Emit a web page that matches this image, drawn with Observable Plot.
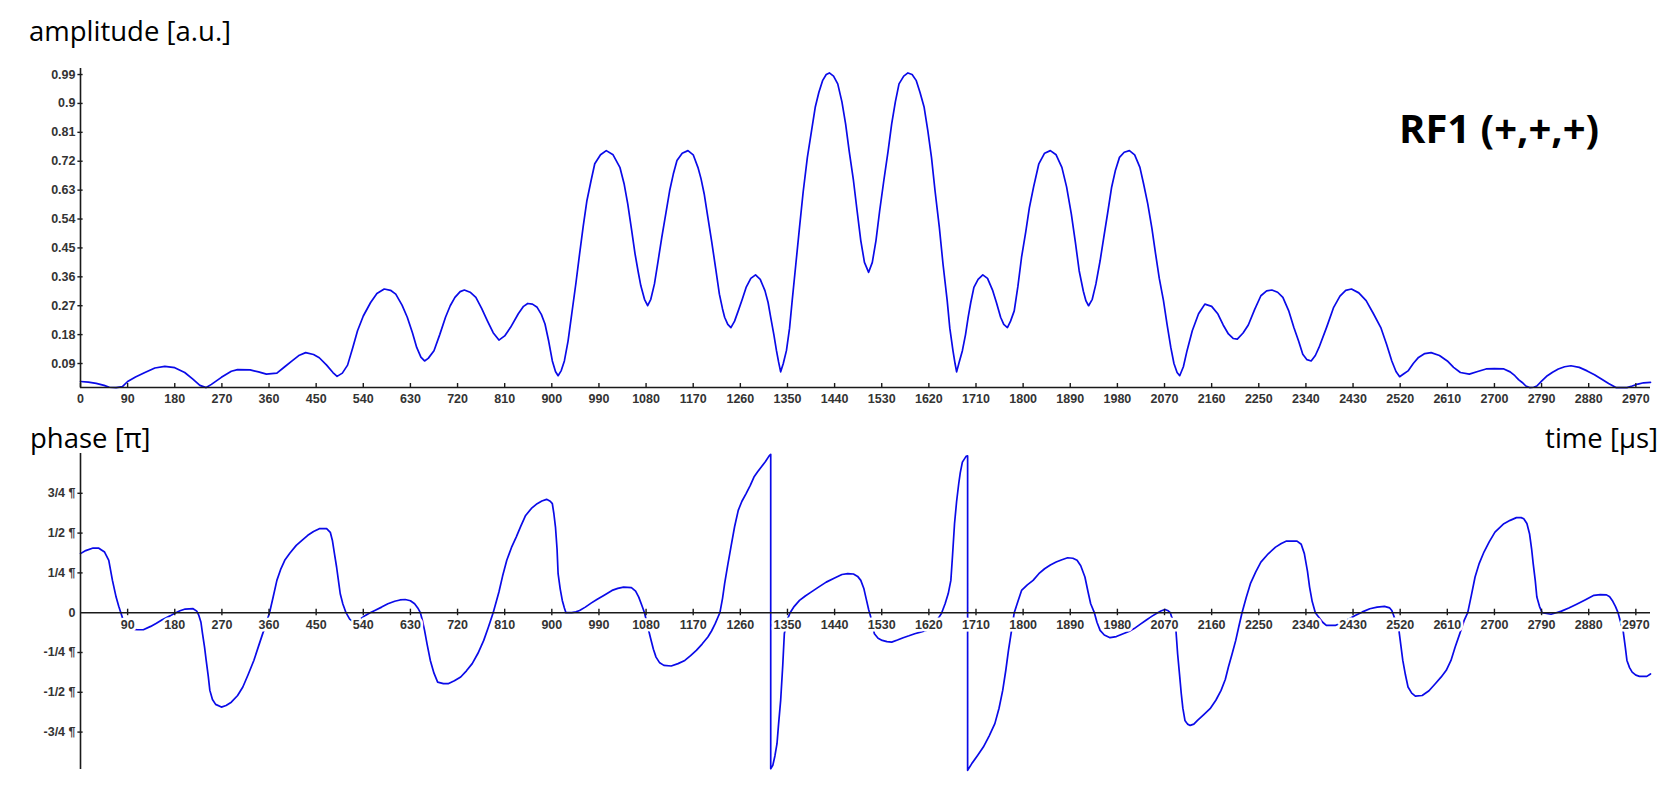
<!DOCTYPE html>
<html>
<head>
<meta charset="utf-8">
<script src="https://cdn.jsdelivr.net/npm/d3@7"></script>
<script src="https://cdn.jsdelivr.net/npm/@observablehq/plot@0.6"></script>
<style>
  html, body { margin: 0; padding: 0; background: #fff; }
  #wrap { position: relative; width: 1668px; height: 796px; overflow: hidden; background: #fff; }
  #wrap > .panel { position: absolute; left: 0; }
  #overlay { position: absolute; left: 0; top: 0; pointer-events: none; z-index: 5; }
</style>
</head>
<body>
<div id="wrap"></div>
<script>
// ---------- data ----------
const ampTime = [0,15,30,45,55,68,80,90,105,123,142,161,180,199,214,228,240,250,269,288,300,324,340,355,375,390,404,418,430,445,456,470,482,490,500,510,520,529,540,554,566,580,592,602,614,624,634,642,650,657,664,675,686,697,706,715,725,733,744,755,766,777,788,799,810,821,836,846,854,863,872,880,887,894,901,907,912,918,924,931,938,946,953,960,967,975,982,993,1004,1017,1030,1038,1045,1052,1059,1065,1070,1077,1083,1089,1096,1103,1110,1118,1125,1132,1139,1149,1160,1170,1179,1185,1191,1198,1205,1213,1220,1226,1230,1236,1242,1249,1256,1264,1271,1280,1289,1298,1307,1313,1318,1324,1329,1333,1337,1342,1348,1354,1359,1366,1373,1380,1388,1396,1403,1410,1417,1424,1430,1438,1446,1454,1461,1468,1476,1483,1490,1497,1505,1512,1519,1526,1534,1542,1549,1556,1563,1572,1580,1588,1596,1603,1611,1618,1625,1632,1640,1647,1655,1660,1666,1670,1673,1678,1684,1690,1695,1700,1706,1714,1723,1732,1742,1749,1757,1763,1770,1776,1783,1790,1797,1805,1812,1820,1830,1841,1852,1863,1874,1883,1892,1900,1907,1915,1920,1925,1932,1939,1947,1954,1962,1969,1976,1984,1993,2003,2013,2023,2030,2038,2046,2053,2060,2068,2075,2082,2088,2094,2099,2106,2113,2123,2135,2147,2160,2172,2182,2192,2201,2209,2220,2230,2242,2254,2265,2275,2286,2296,2307,2317,2326,2334,2342,2350,2358,2365,2380,2393,2405,2416,2427,2441,2455,2469,2483,2494,2504,2512,2519,2527,2535,2545,2555,2567,2579,2595,2610,2622,2635,2652,2668,2684,2700,2718,2730,2739,2746,2753,2760,2767,2775,2781,2790,2801,2811,2822,2834,2846,2862,2877,2891,2905,2918,2932,2943,2953,2963,2974,2985,2998];
const ampValue = [0.034,0.032,0.028,0.022,0.016,0.015,0.018,0.034,0.048,0.062,0.076,0.081,0.077,0.062,0.042,0.022,0.015,0.025,0.047,0.066,0.071,0.070,0.064,0.057,0.060,0.080,0.098,0.116,0.124,0.118,0.108,0.085,0.062,0.050,0.060,0.085,0.140,0.192,0.238,0.280,0.308,0.322,0.318,0.306,0.272,0.234,0.185,0.140,0.110,0.098,0.106,0.130,0.180,0.234,0.270,0.296,0.314,0.319,0.312,0.296,0.262,0.223,0.186,0.163,0.176,0.202,0.245,0.268,0.277,0.275,0.265,0.243,0.213,0.160,0.098,0.065,0.052,0.068,0.098,0.160,0.244,0.340,0.431,0.518,0.597,0.660,0.712,0.740,0.753,0.740,0.701,0.650,0.587,0.510,0.431,0.375,0.332,0.290,0.270,0.290,0.338,0.410,0.483,0.560,0.628,0.680,0.722,0.745,0.753,0.740,0.701,0.665,0.618,0.545,0.473,0.385,0.306,0.260,0.234,0.212,0.202,0.222,0.254,0.292,0.327,0.355,0.366,0.352,0.317,0.280,0.234,0.180,0.130,0.095,0.064,0.090,0.130,0.200,0.286,0.400,0.514,0.625,0.732,0.815,0.888,0.935,0.971,0.990,0.995,0.985,0.961,0.905,0.836,0.750,0.660,0.565,0.473,0.405,0.374,0.405,0.473,0.565,0.660,0.750,0.836,0.905,0.961,0.985,0.995,0.990,0.971,0.935,0.888,0.815,0.732,0.625,0.514,0.400,0.286,0.200,0.130,0.090,0.064,0.095,0.130,0.180,0.234,0.280,0.327,0.352,0.366,0.355,0.317,0.280,0.234,0.212,0.202,0.222,0.254,0.330,0.421,0.500,0.576,0.640,0.712,0.745,0.753,0.740,0.701,0.640,0.556,0.465,0.379,0.315,0.285,0.270,0.290,0.338,0.410,0.483,0.565,0.639,0.690,0.732,0.748,0.753,0.740,0.701,0.650,0.587,0.510,0.431,0.355,0.286,0.210,0.140,0.090,0.062,0.052,0.080,0.130,0.192,0.245,0.275,0.268,0.244,0.210,0.182,0.168,0.166,0.185,0.210,0.258,0.301,0.316,0.319,0.312,0.296,0.255,0.202,0.160,0.119,0.102,0.098,0.115,0.140,0.205,0.265,0.300,0.318,0.322,0.310,0.286,0.245,0.202,0.150,0.098,0.065,0.049,0.058,0.067,0.090,0.109,0.121,0.124,0.115,0.098,0.078,0.062,0.057,0.065,0.073,0.074,0.073,0.064,0.052,0.040,0.031,0.020,0.015,0.016,0.020,0.035,0.052,0.063,0.073,0.080,0.083,0.078,0.067,0.055,0.041,0.028,0.015,0.015,0.015,0.020,0.026,0.030,0.031];

const phaseTime = [0,10,24,35,46,54,61,68,73,77,82,90,100,109,120,134,145,156,171,182,190,200,215,222,226,230,233,237,240,244,247,252,258,269,278,288,300,310,320,331,340,350,361,368,375,382,390,400,412,424,434,445,456,470,477,481,485,489,493,496,501,507,514,520,530,544,553,562,575,587,600,610,620,630,638,644,649,653,657,662,668,675,682,693,702,714,726,737,748,759,770,779,788,794,799,806,814,823,832,841,850,861,872,881,890,897,901,904,907,910,912,916,920,924,927,938,946,953,964,975,986,1000,1015,1026,1037,1052,1060,1066,1072,1077,1082,1088,1094,1099,1106,1114,1128,1141,1154,1165,1176,1187,1198,1205,1212,1217,1221,1226,1230,1236,1242,1249,1256,1263,1271,1279,1286,1293,1300,1308,1315,1318,1318,1322,1326,1330,1333,1337,1341,1344,1349,1355,1363,1373,1384,1395,1410,1424,1440,1454,1465,1476,1484,1490,1496,1501,1505,1509,1513,1516,1523,1531,1540,1549,1560,1571,1582,1593,1604,1615,1625,1635,1644,1651,1657,1662,1665,1669,1673,1677,1680,1684,1691,1694,1694,1702,1713,1724,1735,1746,1754,1761,1767,1772,1778,1783,1790,1797,1808,1819,1830,1841,1852,1863,1874,1885,1895,1903,1910,1918,1924,1929,1936,1941,1947,1955,1966,1978,1991,2002,2012,2024,2036,2047,2057,2064,2071,2077,2081,2086,2092,2095,2099,2102,2105,2109,2114,2119,2126,2133,2145,2157,2168,2178,2186,2192,2199,2206,2212,2218,2226,2234,2244,2254,2268,2282,2293,2303,2323,2331,2337,2343,2347,2352,2358,2365,2372,2379,2396,2410,2422,2434,2448,2462,2476,2490,2500,2504,2510,2515,2518,2525,2530,2535,2542,2549,2562,2575,2587,2598,2608,2617,2625,2634,2642,2649,2656,2663,2671,2680,2690,2701,2710,2718,2730,2742,2751,2756,2762,2767,2771,2774,2778,2781,2786,2791,2808,2818,2828,2842,2856,2873,2890,2902,2914,2920,2925,2931,2936,2941,2946,2950,2953,2958,2963,2970,2977,2991,2998];
const phaseValue = [0.371,0.390,0.406,0.405,0.381,0.329,0.203,0.098,0.040,0.0,-0.050,-0.095,-0.105,-0.107,-0.107,-0.086,-0.066,-0.044,-0.020,0.0,0.012,0.023,0.025,0.010,-0.017,-0.060,-0.132,-0.220,-0.300,-0.400,-0.488,-0.545,-0.576,-0.593,-0.583,-0.562,-0.520,-0.467,-0.390,-0.300,-0.210,-0.111,0.0,0.100,0.203,0.270,0.329,0.375,0.423,0.458,0.486,0.510,0.528,0.528,0.505,0.454,0.370,0.287,0.190,0.119,0.055,0.0,-0.040,-0.055,-0.050,-0.017,0.0,0.014,0.035,0.056,0.072,0.080,0.083,0.075,0.056,0.030,0.0,-0.050,-0.111,-0.200,-0.300,-0.380,-0.436,-0.446,-0.446,-0.428,-0.404,-0.365,-0.320,-0.255,-0.174,-0.090,0.0,0.070,0.130,0.230,0.329,0.410,0.475,0.545,0.611,0.655,0.685,0.702,0.712,0.700,0.685,0.620,0.538,0.400,0.245,0.150,0.077,0.030,0.0,0.0,0.005,0.014,0.035,0.060,0.083,0.110,0.140,0.153,0.161,0.157,0.135,0.098,0.045,0.0,-0.070,-0.153,-0.230,-0.279,-0.315,-0.331,-0.335,-0.320,-0.300,-0.270,-0.237,-0.197,-0.153,-0.115,-0.069,-0.030,0.0,0.090,0.182,0.300,0.412,0.540,0.643,0.700,0.748,0.800,0.852,0.885,0.915,0.950,0.985,0.995,-0.980,-0.959,-0.900,-0.823,-0.700,-0.551,-0.330,-0.132,-0.050,0.0,0.040,0.077,0.105,0.129,0.162,0.192,0.218,0.240,0.245,0.243,0.228,0.203,0.150,0.077,0.020,-0.027,-0.090,-0.132,-0.160,-0.174,-0.182,-0.185,-0.172,-0.157,-0.145,-0.132,-0.122,-0.111,-0.090,-0.050,-0.005,0.056,0.120,0.203,0.350,0.559,0.700,0.810,0.880,0.946,0.982,0.985,-0.990,-0.948,-0.897,-0.844,-0.775,-0.697,-0.600,-0.488,-0.360,-0.237,-0.110,0.0,0.070,0.140,0.175,0.203,0.245,0.276,0.300,0.318,0.333,0.345,0.342,0.329,0.295,0.224,0.130,0.056,0.0,-0.060,-0.111,-0.140,-0.157,-0.150,-0.132,-0.118,-0.100,-0.072,-0.044,-0.020,0.0,0.012,0.020,0.012,0.0,-0.050,-0.120,-0.258,-0.400,-0.509,-0.600,-0.677,-0.700,-0.708,-0.700,-0.677,-0.640,-0.603,-0.550,-0.488,-0.420,-0.341,-0.260,-0.174,-0.085,0.0,0.095,0.182,0.255,0.318,0.370,0.412,0.435,0.450,0.450,0.430,0.371,0.260,0.161,0.070,0.0,-0.030,-0.060,-0.080,-0.080,-0.060,-0.040,-0.017,0.005,0.025,0.035,0.040,0.030,0.014,-0.040,-0.090,-0.120,-0.300,-0.390,-0.467,-0.505,-0.524,-0.520,-0.490,-0.446,-0.405,-0.362,-0.300,-0.216,-0.130,-0.050,0.0,0.110,0.224,0.310,0.381,0.445,0.506,0.535,0.559,0.580,0.597,0.597,0.590,0.560,0.496,0.400,0.308,0.200,0.098,0.040,0.0,-0.010,0.0,0.010,0.030,0.052,0.080,0.109,0.113,0.112,0.100,0.077,0.040,0.0,-0.060,-0.120,-0.220,-0.300,-0.345,-0.373,-0.392,-0.400,-0.400,-0.385];

const timeTicks = [0,90,180,270,360,450,540,630,720,810,900,990,1080,1170,1260,1350,1440,1530,1620,1710,1800,1890,1980,2070,2160,2250,2340,2430,2520,2610,2700,2790,2880,2970];
const ampTicks = [0.09,0.18,0.27,0.36,0.45,0.54,0.63,0.72,0.81,0.9,0.99];
const phaseTicks = [0.75,0.5,0.25,0,-0.25,-0.5,-0.75];
const phaseTickLabels = ["3/4 \u00b6","1/2 \u00b6","1/4 \u00b6","0","-1/4 \u00b6","-1/2 \u00b6","-3/4 \u00b6"];

const ampTitle = "amplitude [a.u.]";
const phaseTitle = "phase [\u03c0]";
const timeTitle = "time [\u03bcs]";
const pulseLabel = "RF1 (+,+,+)";

(function () {
// ---------- styling ----------
const W = 1668;
const xDomain = [0, 2998];
const lineColor = "#0a0ae8";
const axisColor = "#1a1a1a";
const tickFont = "'Liberation Sans', Arial, sans-serif";
const titleFont = "'Open Sans', 'Noto Sans', sans-serif";
const ampDomain = [0.0153, 1.0088];
const phaseDomain = [-0.985, 1.0];

const amp = ampTime.map((t, i) => ({t, v: ampValue[i]}));
const phase = phaseTime.map((t, i) => ({t, v: phaseValue[i]}));

const wrap = document.getElementById("wrap");

// ---------- amplitude panel ----------
const pxPerUnitA = (420 - 68 - 33) / (ampDomain[1] - ampDomain[0]);
const ampPlot = Plot.plot({
  width: W, height: 420,
  marginLeft: 80, marginRight: 18, marginTop: 68, marginBottom: 33,
  x: {domain: xDomain, axis: null},
  y: {domain: ampDomain, axis: null},
  marks: [
    Plot.line(amp, {x: "t", y: "v", stroke: lineColor, strokeWidth: 1.7, curve: "linear"}),
    Plot.ruleX([0], {y1: ampDomain[0], y2: ampDomain[1], stroke: axisColor, strokeWidth: 1.6}),
    Plot.ruleY([ampDomain[0]], {x1: xDomain[0], x2: xDomain[1], stroke: axisColor, strokeWidth: 1.6}),
    Plot.ruleY(ampTicks, {y: d => d, x1: -5, x2: 5, stroke: axisColor, strokeWidth: 1.4}),
    Plot.ruleX(timeTicks, {x: d => d, y1: ampDomain[0] - 1 / pxPerUnitA, y2: ampDomain[0] + 4 / pxPerUnitA, stroke: axisColor, strokeWidth: 1.4}),
    Plot.text(ampTicks, {x: 0, y: d => d, text: d => String(d), textAnchor: "end", dx: -5,
      fontFamily: tickFont, fontWeight: "bold", fontSize: 12.5, fill: "#333"}),
    Plot.text(timeTicks, {x: d => d, y: ampDomain[0], text: d => String(d), lineAnchor: "top", dy: 6.5,
      fontFamily: tickFont, fontWeight: "bold", fontSize: 12.5, fill: "#333"})
  ]
});
ampPlot.classList.add("panel");
ampPlot.style.top = "0px";
wrap.appendChild(ampPlot);

// ---------- phase panel ----------
const pxPerUnitP = (376 - 33 - 27) / (phaseDomain[1] - phaseDomain[0]);
const phasePlot = Plot.plot({
  width: W, height: 376,
  marginLeft: 80, marginRight: 18, marginTop: 33, marginBottom: 27,
  x: {domain: xDomain, axis: null},
  y: {domain: phaseDomain, axis: null},
  marks: [
    Plot.line(phase, {x: "t", y: "v", stroke: lineColor, strokeWidth: 1.7, curve: "linear"}),
    Plot.ruleX([0], {y1: phaseDomain[0], y2: phaseDomain[1], stroke: axisColor, strokeWidth: 1.6}),
    Plot.ruleY([0], {x1: xDomain[0], x2: xDomain[1], stroke: axisColor, strokeWidth: 1.6}),
    Plot.ruleY(phaseTicks.filter(d => d !== 0), {y: d => d, x1: -5, x2: 5, stroke: axisColor, strokeWidth: 1.4}),
    Plot.ruleX(timeTicks.filter(d => d !== 0), {x: d => d, y1: -3 / pxPerUnitP, y2: 3.5 / pxPerUnitP, stroke: axisColor, strokeWidth: 1.4}),
    Plot.text(phaseTicks, {x: 0, y: d => d, text: (d, i) => phaseTickLabels[i], textAnchor: "end", dx: -5,
      fontFamily: tickFont, fontWeight: "bold", fontSize: 12.5, fill: "#333"}),
    Plot.text(timeTicks.filter(d => d !== 0), {x: d => d, y: 0, text: d => String(d), lineAnchor: "top", dy: 7,
      fontFamily: tickFont, fontWeight: "bold", fontSize: 12.5, fill: "#333",
      stroke: "white", strokeWidth: 5, paintOrder: "stroke"})
  ]
});
phasePlot.classList.add("panel");
phasePlot.style.top = "420px";
wrap.appendChild(phasePlot);

// ---------- titles overlay ----------
const ov = d3.select(wrap).append("svg")
  .attr("id", "overlay").attr("width", W).attr("height", 796);
ov.append("text").attr("x", 29).attr("y", 40.5).attr("font-family", titleFont)
  .attr("font-size", 27.5).attr("fill", "#000").text(ampTitle);
ov.append("text").attr("x", 30).attr("y", 448).attr("font-family", titleFont)
  .attr("font-size", 27.5).attr("fill", "#000").text(phaseTitle);
ov.append("text").attr("x", 1658).attr("y", 448).attr("text-anchor", "end").attr("font-family", titleFont)
  .attr("font-size", 27.5).attr("fill", "#000").text(timeTitle);
ov.append("text").attr("x", 1399).attr("y", 143).attr("font-family", titleFont)
  .attr("font-size", 40).attr("font-weight", "bold").attr("fill", "#000").text(pulseLabel);
})();
</script>
</body>
</html>
